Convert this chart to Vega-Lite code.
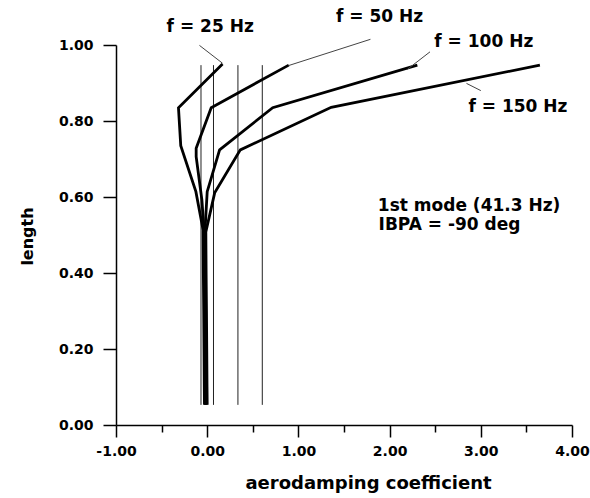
{
  "$schema": "https://vega.github.io/schema/vega-lite/v6.json",
  "width": 456,
  "height": 380,
  "autosize": {"type": "none"},
  "padding": {"left": 116, "top": 45, "right": 18, "bottom": 73},
  "background": "white",
  "config": {"view": {"stroke": null}, "font": "DejaVu Sans"},
  "datasets": {
    "verticals": [
      {"x": -0.068, "y": 0.053, "y2": 0.947},
      {"x": 0.069, "y": 0.053, "y2": 0.947},
      {"x": 0.337, "y": 0.053, "y2": 0.947},
      {"x": 0.604, "y": 0.053, "y2": 0.947}
    ],
    "curves": [
      {"series": "25", "i": 0, "x": 0.168, "y": 0.95},
      {"series": "25", "i": 1, "x": -0.315, "y": 0.835},
      {"series": "25", "i": 2, "x": -0.29, "y": 0.735},
      {"series": "25", "i": 3, "x": -0.124, "y": 0.614},
      {"series": "25", "i": 4, "x": -0.045, "y": 0.513},
      {"series": "25", "i": 5, "x": -0.042, "y": 0.4},
      {"series": "25", "i": 6, "x": -0.038, "y": 0.3},
      {"series": "25", "i": 7, "x": -0.035, "y": 0.2},
      {"series": "25", "i": 8, "x": -0.032, "y": 0.1},
      {"series": "25", "i": 9, "x": -0.03, "y": 0.053},
      {"series": "50", "i": 0, "x": 0.894, "y": 0.947},
      {"series": "50", "i": 1, "x": 0.044, "y": 0.835},
      {"series": "50", "i": 2, "x": -0.121, "y": 0.728},
      {"series": "50", "i": 3, "x": -0.121, "y": 0.706},
      {"series": "50", "i": 4, "x": -0.058, "y": 0.592},
      {"series": "50", "i": 5, "x": -0.035, "y": 0.513},
      {"series": "50", "i": 6, "x": -0.032, "y": 0.4},
      {"series": "50", "i": 7, "x": -0.028, "y": 0.3},
      {"series": "50", "i": 8, "x": -0.025, "y": 0.2},
      {"series": "50", "i": 9, "x": -0.022, "y": 0.1},
      {"series": "50", "i": 10, "x": -0.02, "y": 0.053},
      {"series": "100", "i": 0, "x": 2.304, "y": 0.947},
      {"series": "100", "i": 1, "x": 0.718, "y": 0.835},
      {"series": "100", "i": 2, "x": 0.136, "y": 0.724},
      {"series": "100", "i": 3, "x": 0.0, "y": 0.614},
      {"series": "100", "i": 4, "x": -0.025, "y": 0.508},
      {"series": "100", "i": 5, "x": -0.022, "y": 0.4},
      {"series": "100", "i": 6, "x": -0.018, "y": 0.3},
      {"series": "100", "i": 7, "x": -0.015, "y": 0.2},
      {"series": "100", "i": 8, "x": -0.012, "y": 0.1},
      {"series": "100", "i": 9, "x": -0.01, "y": 0.053},
      {"series": "150", "i": 0, "x": 3.648, "y": 0.947},
      {"series": "150", "i": 1, "x": 1.36, "y": 0.836},
      {"series": "150", "i": 2, "x": 0.363, "y": 0.724},
      {"series": "150", "i": 3, "x": 0.082, "y": 0.611},
      {"series": "150", "i": 4, "x": -0.015, "y": 0.508},
      {"series": "150", "i": 5, "x": -0.012, "y": 0.4},
      {"series": "150", "i": 6, "x": -0.008, "y": 0.3},
      {"series": "150", "i": 7, "x": -0.005, "y": 0.2},
      {"series": "150", "i": 8, "x": -0.002, "y": 0.1},
      {"series": "150", "i": 9, "x": 0.0, "y": 0.053}
    ],
    "leaders": [
      {"x": -0.085, "y": 0.999, "x2": 0.168, "y2": 0.952},
      {"x": 0.894, "y": 0.946, "x2": 1.79, "y2": 1.015},
      {"x": 2.195, "y": 0.936, "x2": 2.443, "y2": 0.982},
      {"x": 2.843, "y": 0.899, "x2": 3.0, "y2": 0.88}
    ],
    "labels": [
      {"text": "f = 25 Hz", "x": 0.033, "y": 1.033},
      {"text": "f = 50 Hz", "x": 1.89, "y": 1.061},
      {"text": "f = 100 Hz", "x": 3.033, "y": 0.9955},
      {"text": "f = 150 Hz", "x": 3.407, "y": 0.8245},
      {"text": "1st mode (41.3 Hz)", "x": 2.872, "y": 0.564},
      {"text": "IBPA = -90 deg", "x": 2.657, "y": 0.513}
    ]
  },
  "layer": [
    {
      "data": {"name": "verticals"},
      "mark": {"type": "rule", "color": "#222222", "strokeWidth": 1},
      "encoding": {
        "x": {
          "field": "x", "type": "quantitative",
          "scale": {"domain": [-1, 4], "nice": false, "zero": false},
          "axis": {
            "values": [-1, -0.5, 0, 0.5, 1, 1.5, 2, 2.5, 3, 3.5, 4],
            "format": ".2f",
            "labelExpr": "abs(datum.value - round(datum.value)) < 0.01 ? replace(datum.label, '\u2212', '-') : ''",
            "title": "aerodamping coefficient",
            "titleFont": "DejaVu Sans", "titleFontSize": 18, "titleFontWeight": "bold", "titleColor": "black",
            "titleX": 252, "titleY": 63, "titleBaseline": "alphabetic", "titleAlign": "center",
            "labelFont": "DejaVu Sans", "labelFontSize": 14, "labelFontWeight": "bold", "labelColor": "black",
            "labelPadding": 7, "labelFlush": false, "labelOverlap": false,
            "tickSize": {"condition": {"test": "abs(datum.value - round(datum.value)) < 0.01", "value": 12}, "value": 7},
            "tickColor": "black", "tickWidth": 1.5,
            "domainColor": "black", "domainWidth": 1.5, "grid": false
          }
        },
        "y": {
          "field": "y", "type": "quantitative",
          "scale": {"domain": [0, 1], "nice": false, "zero": false},
          "axis": {
            "values": [0, 0.1, 0.2, 0.3, 0.4, 0.5, 0.6, 0.7, 0.8, 0.9, 1.0],
            "format": ".2f",
            "labelExpr": "abs(datum.value * 5 - round(datum.value * 5)) < 0.01 ? datum.label : ''",
            "title": "length",
            "titleFont": "DejaVu Sans", "titleFontSize": 16, "titleFontWeight": "bold", "titleColor": "black",
            "titleX": -84, "titleY": 191, "titleAngle": -90, "titleBaseline": "alphabetic", "titleAlign": "center",
            "labelFont": "DejaVu Sans", "labelFontSize": 14, "labelFontWeight": "bold", "labelColor": "black",
            "labelPadding": 10, "labelFlush": false, "labelOverlap": false,
            "tickSize": {"condition": {"test": "abs(datum.value * 5 - round(datum.value * 5)) < 0.01", "value": 13}, "value": 7},
            "tickColor": "black", "tickWidth": 1.5,
            "domainColor": "black", "domainWidth": 1.5, "grid": false
          }
        },
        "y2": {"field": "y2"}
      }
    },
    {
      "data": {"name": "curves"},
      "mark": {"type": "line", "color": "black", "strokeWidth": 2.8, "strokeJoin": "miter", "clip": false},
      "encoding": {
        "x": {"field": "x", "type": "quantitative"},
        "y": {"field": "y", "type": "quantitative"},
        "detail": {"field": "series"},
        "order": {"field": "i", "type": "quantitative"}
      }
    },
    {
      "data": {"name": "leaders"},
      "mark": {"type": "rule", "color": "#444444", "strokeWidth": 1},
      "encoding": {
        "x": {"field": "x", "type": "quantitative"},
        "y": {"field": "y", "type": "quantitative"},
        "x2": {"field": "x2"},
        "y2": {"field": "y2"}
      }
    },
    {
      "data": {"name": "labels"},
      "mark": {"type": "text", "font": "DejaVu Sans", "fontSize": 17, "fontWeight": "bold", "color": "black", "align": "center", "baseline": "alphabetic"},
      "encoding": {
        "x": {"field": "x", "type": "quantitative"},
        "y": {"field": "y", "type": "quantitative"},
        "text": {"field": "text"}
      }
    }
  ]
}
